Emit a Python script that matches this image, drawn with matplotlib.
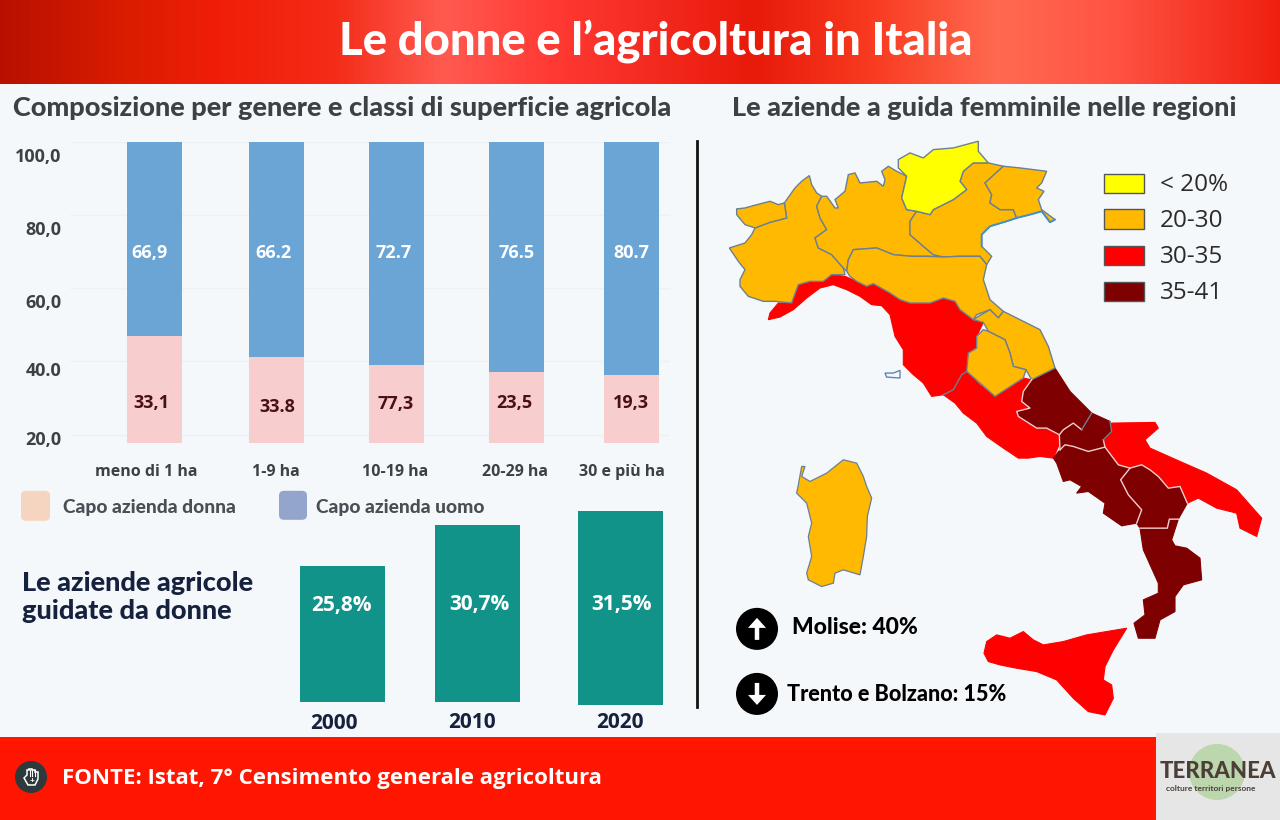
import numpy as np
import matplotlib
matplotlib.use("Agg")
import matplotlib.pyplot as plt
from matplotlib.colors import LinearSegmentedColormap
from matplotlib.patches import Polygon, Circle, Rectangle, FancyBboxPatch, FancyArrow
from matplotlib.transforms import ScaledTranslation

plt.rcParams['font.family'] = ['Lato', 'DejaVu Sans']

# stacked bars
categories = ["meno di 1 ha", "1-9 ha", "10-19 ha", "20-29 ha", "30 e più ha"]
uomo_labels = ["66,9", "66.2", "72.7", "76.5", "80.7"]
donna_labels = ["33,1", "33.8", "77,3", "23,5", "19,3"]
# height of the pink part as drawn in the picture (not the same as its label)
donna_top = [47.0, 41.3, 38.9, 37.0, 36.2]
axis_top = 100.0
axis_bottom = 17.8
y_ticks = [100, 80, 60, 40, 20]
y_tick_labels = ["100,0", "80,0", "60,0", "40.0", "20,0"]

# year bars, heights read in pixels from the picture
years = ["2000", "2010", "2020"]
year_labels = ["25,8%", "30,7%", "31,5%"]
year_bar_heights = [136, 177, 194]

# map legend
legend_labels = ["< 20%", "20-30", "30-35", "35-41"]
legend_colors = ["#ffff00", "#ffb900", "#ff0000", "#7f0000"]

# region outlines
valle = [(50,208),(75,205),(100,198),(150,185),(175,195),(193,190),(200,235),(150,248),(105,265),(75,255),(50,225)]
piemonte = [(193,190),(225,145),(245,125),(268,108),(275,135),(290,160),(305,170),(290,200),(300,235),(320,270),(285,295),(295,325),(335,345),(370,385),(375,405),(335,405),(310,425),(270,425),(235,435),(215,490),(165,485),(130,485),(85,470),(60,440),(60,420),(75,390),(55,365),(28,325),(75,310),(95,285),(105,265),(150,248),(200,235)]
lombardia = [(305,170),(320,170),(345,205),(355,205),(345,180),(375,155),(385,105),(405,100),(420,130),(470,125),(490,140),(495,120),(485,95),(505,80),(530,95),(560,110),(545,175),(560,210),(590,215),(570,245),(570,285),(610,320),(640,345),(670,352),(620,350),(575,350),(520,345),(470,325),(400,330),(385,360),(380,395),(370,385),(335,345),(295,325),(285,295),(320,270),(300,235),(290,200)]
trentino = [(535,60),(570,40),(610,55),(640,30),(700,25),(775,5),(775,35),(805,70),(760,70),(730,95),(720,125),(740,150),(700,180),(640,210),(630,225),(590,215),(560,210),(545,175),(560,110),(535,85)]
veneto = [(805,70),(850,80),(795,130),(815,165),(810,190),(840,210),(880,210),(890,235),(860,245),(810,260),(785,285),(785,320),(815,350),(800,375),(780,350),(720,350),(670,352),(640,345),(610,320),(570,285),(570,245),(590,215),(630,225),(640,210),(700,180),(740,150),(720,125),(730,95),(760,70)]
friuli = [(850,80),(900,85),(980,95),(965,130),(950,145),(972,155),(955,180),(965,210),(1005,240),(990,248),(965,215),(930,225),(890,235),(880,210),(840,210),(810,190),(815,165),(795,130)]
emilia = [(400,330),(470,325),(520,345),(575,350),(620,350),(670,352),(720,350),(780,350),(800,375),(790,420),(810,480),(850,515),(835,535),(810,510),(770,525),(760,540),(720,510),(705,485),(670,475),(630,490),(570,490),(540,480),(510,460),(460,432),(440,440),(410,425),(390,410),(380,395),(385,360)]
liguria = [(145,540),(150,520),(175,490),(215,490),(235,435),(270,425),(310,425),(335,405),(375,410),(410,425),(440,440),(470,480),(485,498),(455,495),(420,470),(380,450),(340,435),(300,445),(260,475),(220,510),(180,532)]
toscana = [(440,440),(460,432),(510,460),(540,480),(570,490),(630,490),(670,475),(705,485),(720,510),(760,540),(790,548),(770,590),(770,625),(745,640),(740,695),(725,705),(700,750),(670,765),(635,770),(610,730),(580,705),(550,675),(550,630),(525,590),(510,525),(485,498),(470,480)]
marche = [(775,530),(810,510),(835,535),(850,515),(900,540),(960,570),(985,620),(1005,685),(935,720),(918,690),(880,680),(870,640),(855,600),(805,575),(790,548),(760,540)]
umbria = [(790,570),(805,575),(855,600),(870,640),(880,680),(918,690),(910,715),(825,770),(780,730),(740,695),(745,640),(770,625),(770,590)]
elba = [(495,700),(520,700),(540,692),(540,715),(500,712)]
venice_coast = [(785,320),(785,285),(810,260),(860,245),(890,235),(930,225),(965,215),(990,248),(1005,240)]

lazio = [(490,105),(520,90),(545,45),(560,35),(600,75),(645,110),(690,80),(730,55),(755,60),(730,95),(725,125),(750,145),(710,155),(715,170),(770,205),(800,205),(840,225),(835,260),(820,295),(780,290),(745,295),(715,295),(670,265),(620,230),(590,190),(550,160),(525,130)]
abruzzo = [(755,60),(825,25),(870,95),(935,160),(905,210),(880,190),(850,210),(838,225),(800,205),(770,205),(715,170),(710,155),(750,145),(725,125),(730,95)]
molise = [(935,160),(990,185),(995,215),(970,240),(975,262),(925,275),(880,260),(855,255),(840,270),(838,225),(850,210),(880,190),(905,210)]
campania = [(840,270),(855,255),(880,260),(925,275),(975,262),(1015,315),(1050,325),(1022,360),(1045,405),(1085,450),(1070,490),(1025,498),(970,460),(975,430),(925,395),(890,400),(905,380),(870,360),(850,365),(830,310),(820,295)]
puglia = [(995,190),(1125,188),(1135,205),(1095,240),(1110,265),(1200,305),(1280,340),(1370,390),(1445,475),(1430,530),(1380,505),(1370,460),(1310,445),(1255,415),(1222,430),(1200,380),(1165,385),(1135,350),(1110,330),(1085,315),(1050,325),(1010,315),(985,275),(968,250)]
basilicata = [(1050,325),(1085,315),(1110,330),(1135,350),(1165,385),(1200,380),(1222,430),(1195,478),(1168,478),(1162,505),(1115,505),(1080,505),(1070,490),(1085,450),(1045,405),(1022,360)]
calabria = [(1080,505),(1115,505),(1162,505),(1168,478),(1195,478),(1175,540),(1185,558),(1220,565),(1260,595),(1265,660),(1210,675),(1185,710),(1185,755),(1140,780),(1125,835),(1075,835),(1062,790),(1095,765),(1090,720),(1135,700),(1135,670),(1090,570)]
sicilia = [(612,880),(620,845),(650,825),(690,835),(730,815),(760,840),(790,855),(850,845),(920,825),(980,815),(1040,805),(1000,870),(975,920),(970,960),(995,975),(1000,1015),(975,1065),(925,1055),(880,1015),(830,960),(770,935),(710,925),(660,915),(625,905)]
sardegna = [(55,375),(65,320),(75,320),(65,350),(90,365),(140,340),(190,300),(230,310),(250,350),(260,380),(275,415),(262,470),(260,530),(250,590),(240,645),(190,630),(165,640),(160,670),(125,680),(85,660),(80,640),(95,590),(85,530),(95,490),(80,430),(50,400)]


def north(pts):
    return [(720 + x / 3, 140 + y / 3) for x, y in pts]


def south(pts):
    return [(780 + x / 3, 360 + y / 3) for x, y in pts]


W, H = 1280, 820
fig = plt.figure(figsize=(W / 100, (H + 0.5) / 100), dpi=100, facecolor="#f4f8fb")


def px_axes(x0, y0, x1, y1):
    return fig.add_axes([x0 / W, 1 - y1 / H, (x1 - x0) / W, (y1 - y0) / H])


page = fig.add_axes([0, 0, 1, 1], zorder=0)
page.axis("off")

# header
header_cmap = LinearSegmentedColormap.from_list(
    "header", [(0, "#b81000"), (0.09, "#d81c00"), (0.17, "#f01e08"), (0.26, "#f42c18"), (0.345, "#ff5a50"),
               (0.43, "#ff3a34"), (0.59, "#e81a0a"), (0.68, "#f83a20"), (0.78, "#ff6a50"), (0.87, "#ff5444"),
               (1, "#f02010")])
page.imshow(np.linspace(0, 1, 512).reshape(1, -1), extent=(0, W, 84, 0), cmap=header_cmap, aspect="auto", zorder=1)
page.set_xlim(0, W)
page.set_ylim(H, 0)
page.text(656, 41, "Le donne e l’agricoltura in Italia", color="white", fontsize=32.7, fontweight="black",
          ha="center", va="center", zorder=3)

# footer
page.add_patch(Rectangle((0, 737), 1156, 83, color="#ff1500", lw=0, zorder=1))
page.add_patch(Rectangle((1156, 733), 124, 87, color="#e6e6e6", lw=0, zorder=1))
page.add_patch(Circle((31, 777), 16, color="#2c3a3c", lw=0, zorder=2))
hand = [(24, 778), (27, 775), (27, 770), (29, 770), (29, 769), (32, 769), (32, 770), (35, 770), (35, 772), (38, 772),
        (38, 779), (35, 785), (28, 785)]
page.add_patch(Polygon(hand, fc="none", ec="white", lw=1.1, zorder=3))
for hx in [29.5, 32, 35]:
    page.plot([hx, hx], [770, 776], color="white", lw=0.8, zorder=3)
page.text(32, 780.5, "+", color="white", fontsize=6, fontweight="bold", ha="center", va="center", zorder=3)
page.text(62, 778, "FONTE: Istat, 7° Censimento generale agricoltura", color="white", fontsize=16,
          fontweight="bold", family="Open Sans", ha="left", va="center", zorder=3)
page.add_patch(Circle((1217, 772), 28, color="#bcd6ae", lw=0, zorder=2))
page.text(1218, 771, "TERRANEA", color="#4c3f38", fontsize=16, fontweight="black", ha="center", va="center", zorder=3)
page.text(1211, 788, "colture territori persone", color="#4c3f38", fontsize=6, fontweight="bold",
          ha="center", va="center", zorder=3)

# panel titles
page.text(13, 108, "Composizione per genere e classi di superficie agricola", color="#3b4145", fontsize=19.5,
          fontweight="black", ha="left", va="center")
page.text(732, 108, "Le aziende a guida femminile nelle regioni", color="#3b4145", fontsize=19.5,
          fontweight="black", ha="left", va="center")

# stacked bars, on a real value axis
bar_x = [154.5, 276, 396.5, 516, 631]
uomo_label_x = [149, 274, 394, 517, 631]
donna_label_x = [151, 277, 396, 514, 631]
donna_label_y = [28.7, 27.6, 28.4, 28.7, 28.7]
cat_label_x = [146, 276, 395, 515, 622]
tick_shift = [13, 13, 12, 7, 3]

ax = px_axes(70, 142, 670, 443)
ax.patch.set_alpha(0)
ax.set_xlim(70, 670)
ax.set_ylim(axis_bottom, axis_top)
for s in ax.spines.values():
    s.set_visible(False)
ax.hlines(y_ticks, 70, 670, color="#edf1f4", lw=1, zorder=0)
heights_donna = [t - axis_bottom for t in donna_top]
heights_uomo = [axis_top - t for t in donna_top]
ax.bar(bar_x, heights_donna, width=55, bottom=axis_bottom, color="#f8cdcd", lw=0, zorder=2)
ax.bar(bar_x, heights_uomo, width=55, bottom=donna_top, color="#6aa5d6", lw=0, zorder=2)
for i in range(5):
    ax.text(uomo_label_x[i], 69.7, uomo_labels[i], color="white", fontsize=13, fontweight="bold",
            family="Open Sans", ha="center", va="center", zorder=3)
    ax.text(donna_label_x[i], donna_label_y[i], donna_labels[i], color="#4a1018", fontsize=13, fontweight="bold",
            family="Open Sans", ha="center", va="center", zorder=3)
ax.set_yticks(y_ticks, y_tick_labels, fontsize=13, fontweight="bold", family="Open Sans", color="#3b4145")
ax.set_xticks(cat_label_x, categories, fontsize=11.5, fontweight="bold", family="Open Sans", color="#3b4145")
ax.tick_params(length=0, axis="y", pad=6)
ax.tick_params(length=0, axis="x", pad=15)
for lab, dy in zip(ax.get_yticklabels(), tick_shift):
    lab.set_transform(lab.get_transform() + ScaledTranslation(0, -dy / 100, fig.dpi_scale_trans))

# legend of the bars
page.add_patch(FancyBboxPatch((24, 494), 23, 24, boxstyle="round,pad=3,rounding_size=5", color="#f5d5c0", lw=0))
page.add_patch(FancyBboxPatch((282, 494), 22, 23, boxstyle="round,pad=3,rounding_size=5", color="#93a5cc", lw=0))
page.text(63, 507, "Capo azienda donna", color="#4a4f55", fontsize=13.8, fontweight="black", ha="left", va="center")
page.text(316, 507, "Capo azienda uomo", color="#4a4f55", fontsize=13.8, fontweight="black", ha="left", va="center")

# year bars
page.text(22, 583, "Le aziende agricole", color="#16213e", fontsize=19.5, fontweight="black", ha="left", va="center")
page.text(22, 611, "guidate da donne", color="#16213e", fontsize=19.5, fontweight="black", ha="left", va="center")

year_x = [342.5, 477, 620.5]
year_base = [8, 8, 5]
year_text_x = [341, 479, 622]
year_tick_x = [334, 472, 620]
year_label_h = [105, 106, 106]
year_tick_y = [723, 722, 722]
ay = px_axes(290, 505, 670, 710)
ay.patch.set_alpha(0)
ay.set_xlim(290, 670)
ay.set_ylim(0, 205)
ay.axis("off")
ay.bar(year_x, year_bar_heights, width=85, bottom=year_base, color="#12938a", lw=0)
for i in range(3):
    ay.text(year_text_x[i], year_label_h[i], year_labels[i], color="white", fontsize=15, fontweight="bold",
            family="Open Sans", ha="center", va="center")
    page.text(year_tick_x[i], year_tick_y[i], years[i], color="#16213e", fontsize=15, fontweight="bold",
              family="Open Sans", ha="center", va="center")

# divider
page.plot([697, 697], [141, 707], color="#111111", lw=2, zorder=1)

# map
slate = "#6c7f93"
for pts in [liguria, toscana]:
    page.add_patch(Polygon(north(pts), fc="#ff0000", ec="#ff0000", lw=0.8, zorder=2))
for pts in [lazio, puglia, sicilia]:
    page.add_patch(Polygon(south(pts), fc="#ff0000", ec="#ff0000", lw=0.8, zorder=2))
for pts in [abruzzo, molise, campania, basilicata, calabria]:
    page.add_patch(Polygon(south(pts), fc="#7f0000", ec="#7f0000", lw=0.8, zorder=2))
for pts in [piemonte, valle, lombardia, veneto, friuli, emilia, marche, umbria]:
    page.add_patch(Polygon(north(pts), fc="#ffb900", ec=slate, lw=1.0, zorder=3))
page.add_patch(Polygon(north(trentino), fc="#ffff00", ec=slate, lw=1.0, zorder=3))
page.add_patch(Polygon(south(sardegna), fc="#ffb900", ec=slate, lw=0.9, zorder=3))
page.add_patch(Polygon(north(elba), fc="#f4f8fb", ec="#5d86b5", lw=1.0, zorder=3))
cx, cy = zip(*north(venice_coast))
page.plot(cx, cy, color="#3f8fd0", lw=1.3, zorder=4)

# pale borders between the southern regions
pale_borders = [
    [(755,60),(730,95),(725,125),(750,145),(710,155),(715,170),(770,205),(800,205),(838,225)],
    [(838,225),(850,210),(880,190),(905,210)],
    [(840,270),(855,255),(880,260),(925,275),(975,262),(1015,315),(1050,325)],
    [(838,225),(840,270)],
    [(970,240),(975,262)],
    [(1050,325),(1022,360),(1045,405),(1085,450),(1070,490)],
    [(1050,325),(1085,315),(1110,330),(1135,350),(1165,385),(1200,380),(1222,430)],
    [(1080,505),(1115,505),(1162,505),(1168,478),(1195,478)],
]
for line in pale_borders:
    bx, by = zip(*south(line))
    page.plot(bx, by, color="#f3cfcf", lw=1.0, zorder=4)
slate_borders = [
    [(905,210),(935,160)],
    [(970,240),(995,215),(990,185)],
    [(490,105),(520,90),(545,45),(560,35)],
]
for line in slate_borders:
    bx, by = zip(*south(line))
    page.plot(bx, by, color=slate, lw=1.0, zorder=4)

# map legend
legend_y = [174, 209.5, 246, 282]
for ly, lab, col in zip(legend_y, legend_labels, legend_colors):
    page.add_patch(Rectangle((1104, ly), 40, 19.5, fc=col, ec="#555555", lw=1, zorder=5))
    page.text(1160, ly + 11, lab, color="#2b2b2b", fontsize=17.5, family="Open Sans", ha="left", va="center", zorder=5)

# highest and lowest region
for cyc, d in [(629, -1), (694, 1)]:
    page.add_patch(Circle((757, cyc), 21, color="black", lw=0, zorder=5))
    page.add_patch(FancyArrow(757, cyc - 11 * d, 0, 22 * d, width=4.5, head_width=18, head_length=10,
                              length_includes_head=True, color="white", lw=0, zorder=6))
page.text(792, 627, "Molise: 40%", color="black", fontsize=16.5, fontweight="black", ha="left", va="center", zorder=5)
page.text(787, 694, "Trento e Bolzano: 15%", color="black", fontsize=15.6, fontweight="black", ha="left", va="center", zorder=5)

fig.savefig("out.png", dpi=100)
